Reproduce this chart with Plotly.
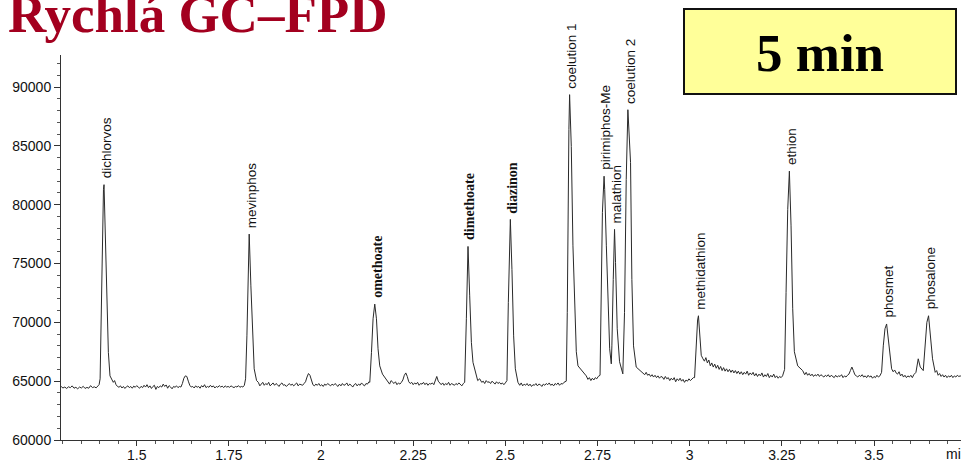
import plotly.graph_objects as go

# ---------------- data ----------------
time_min = [
    1.295, 1.300, 1.305, 1.310, 1.315, 1.320, 1.325, 1.330, 1.335, 1.340, 1.345, 1.350,
    1.355, 1.360, 1.365, 1.370, 1.375, 1.380, 1.385, 1.390, 1.395, 1.398,
    1.4008, 1.4054, 1.4099, 1.4114, 1.4141, 1.4187, 1.4232, 1.4276, 1.4320, 1.4366, 1.4400,
    1.444, 1.448, 1.452, 1.456, 1.460, 1.464, 1.468, 1.472, 1.476, 1.480, 1.484, 1.488,
    1.492, 1.496, 1.500, 1.504, 1.508, 1.512, 1.516, 1.520, 1.524, 1.528, 1.532, 1.536,
    1.540, 1.544, 1.548, 1.552, 1.556, 1.560, 1.564, 1.568, 1.572, 1.576, 1.580, 1.584,
    1.588, 1.592, 1.596, 1.600, 1.604, 1.608, 1.612, 1.616, 1.620, 1.624, 1.628, 1.632,
    1.636, 1.640, 1.644, 1.648, 1.652, 1.656, 1.660, 1.664, 1.668, 1.672, 1.676, 1.680,
    1.684, 1.688, 1.692, 1.696, 1.700, 1.704, 1.708, 1.712, 1.716, 1.720, 1.724, 1.728,
    1.732, 1.736, 1.740, 1.744, 1.748, 1.752, 1.756, 1.760, 1.764, 1.768, 1.772, 1.776,
    1.780, 1.784, 1.788, 1.792,
    1.7954, 1.799, 1.8024, 1.8052, 1.8098, 1.8143, 1.8187, 1.8252, 1.830, 1.834,
    1.838, 1.842, 1.846, 1.850, 1.854, 1.858, 1.862, 1.866, 1.870, 1.874, 1.878, 1.882,
    1.886, 1.890, 1.894, 1.898, 1.902, 1.906, 1.910, 1.914, 1.918, 1.922, 1.926, 1.930,
    1.934, 1.938, 1.942, 1.946, 1.950, 1.954, 1.958, 1.962, 1.966, 1.970, 1.974, 1.978,
    1.982, 1.986, 1.990, 1.994, 1.998, 2.002, 2.006, 2.010, 2.014, 2.018, 2.022, 2.026,
    2.030, 2.034, 2.038, 2.042, 2.046, 2.050, 2.054, 2.058, 2.062, 2.066, 2.070, 2.074,
    2.078, 2.082, 2.086, 2.090, 2.094, 2.098, 2.102, 2.106, 2.110, 2.114, 2.118, 2.122,
    2.126, 2.130,
    2.1323, 2.1369, 2.1412, 2.1458, 2.1504, 2.1547, 2.1593, 2.1667, 2.1720, 2.1775,
    2.182, 2.186, 2.190, 2.194, 2.198, 2.202, 2.206, 2.210, 2.214, 2.218, 2.222, 2.226,
    2.230, 2.234, 2.238, 2.242, 2.246, 2.250, 2.254, 2.258, 2.262, 2.266, 2.270, 2.274,
    2.278, 2.282, 2.286, 2.290, 2.294, 2.298, 2.302, 2.306, 2.310, 2.314, 2.318, 2.322,
    2.326, 2.330, 2.334, 2.338, 2.342, 2.346, 2.350, 2.354, 2.358, 2.362, 2.366, 2.370,
    2.374, 2.378, 2.382, 2.386,
    2.3897, 2.3943, 2.3987, 2.4033, 2.4079, 2.4122, 2.4195, 2.4250, 2.4304,
    2.436, 2.440, 2.444, 2.448, 2.452, 2.456, 2.460, 2.464, 2.468, 2.472, 2.476, 2.480,
    2.484, 2.488, 2.492, 2.496, 2.500,
    2.5043, 2.5081, 2.5136, 2.5179, 2.5225, 2.5271, 2.5342,
    2.539, 2.543, 2.547, 2.551, 2.555, 2.559, 2.563, 2.567, 2.571, 2.575, 2.579, 2.583,
    2.587, 2.591, 2.595, 2.599, 2.603, 2.607, 2.611, 2.615, 2.619, 2.623, 2.627, 2.631,
    2.635, 2.639, 2.643, 2.647, 2.651, 2.655, 2.659, 2.662,
    2.6653, 2.668, 2.6697, 2.6724, 2.6743, 2.6789, 2.6834, 2.6879, 2.6925, 2.697, 2.7105, 2.7195,
    2.724, 2.728, 2.732, 2.736, 2.740, 2.744, 2.748, 2.752,
    2.7569, 2.7596, 2.7633, 2.7678, 2.7695, 2.774, 2.7785, 2.783, 2.7874, 2.789, 2.7927, 2.7962,
    2.7989, 2.8035, 2.8098, 2.8187, 2.8233, 2.8279, 2.8324, 2.8396, 2.8432, 2.8477, 2.855, 2.8685,
    2.874, 2.878, 2.882, 2.886, 2.890, 2.894, 2.898, 2.902, 2.906, 2.910, 2.914, 2.918,
    2.922, 2.926, 2.930, 2.934, 2.938, 2.942, 2.946, 2.950, 2.954, 2.958, 2.962, 2.966,
    2.970, 2.974, 2.978, 2.982, 2.986, 2.990, 2.994, 2.998, 3.002, 3.006, 3.010,
    3.0133, 3.0176, 3.0215, 3.0238, 3.0268, 3.0314, 3.036, 3.040, 3.044, 3.048, 3.052, 3.056,
    3.060, 3.064, 3.068, 3.072, 3.076, 3.080, 3.084, 3.088, 3.092, 3.096, 3.100, 3.104,
    3.108, 3.112, 3.116, 3.120, 3.124, 3.128, 3.132, 3.136, 3.140, 3.144, 3.148, 3.152,
    3.156, 3.160, 3.164, 3.168, 3.172, 3.176, 3.180, 3.184, 3.188, 3.192, 3.196, 3.200,
    3.204, 3.208, 3.212, 3.216, 3.220, 3.224, 3.228, 3.232, 3.236, 3.240, 3.244, 3.248, 3.252,
    3.2575, 3.2615, 3.266, 3.2705, 3.275, 3.2795, 3.284, 3.293, 3.3065,
    3.312, 3.316, 3.320, 3.324, 3.328, 3.332, 3.336, 3.340, 3.344, 3.348, 3.352, 3.356,
    3.360, 3.364, 3.368, 3.372, 3.376, 3.380, 3.384, 3.388, 3.392, 3.396, 3.400, 3.404,
    3.408, 3.412, 3.416, 3.420, 3.424, 3.428, 3.432, 3.436, 3.440, 3.444, 3.448, 3.452,
    3.456, 3.460, 3.464, 3.468, 3.472, 3.476, 3.480, 3.484, 3.488, 3.492, 3.496, 3.500,
    3.504, 3.508, 3.512, 3.516,
    3.5206, 3.5252, 3.5298, 3.5342, 3.5387, 3.5433, 3.5478, 3.552, 3.556, 3.560,
    3.564, 3.568, 3.572, 3.576, 3.580, 3.584, 3.588, 3.592, 3.596, 3.600, 3.604, 3.608,
    3.6138, 3.620, 3.6255, 3.6336, 3.639, 3.6434, 3.648, 3.6525, 3.6588, 3.666,
    3.670, 3.674, 3.678, 3.682, 3.686, 3.690, 3.694, 3.698, 3.702, 3.706, 3.710, 3.714,
    3.718, 3.722, 3.726, 3.730, 3.734, 3.738,
]

signal = [
    64550, 64420, 64500, 64380, 64520, 64450, 64600, 64400, 64480, 64350, 64500, 64420,
    64560, 64380, 64470, 64400, 64620, 64450, 64520, 64430, 64600, 64700,
    65200, 74500, 81300, 81700, 78750, 71700, 67450, 65450, 65100, 64900, 65050,
    64700, 64550, 64480, 64600, 64420, 64550, 64380, 64520, 64600, 64450, 64550, 64400,
    64580, 64480, 64620, 64500, 64400, 64560, 64450, 64650, 64500, 64700, 64450, 64600,
    64380, 64550, 64650, 64300, 64550, 64450, 64600, 64500, 64750, 64550, 64680, 64400,
    64620, 64500, 64350, 64550, 64480, 64600, 64450, 64550, 64500, 64800, 65250, 65450,
    65400, 65000, 64650, 64500, 64550, 64420, 64600, 64480, 64550, 64400, 64620, 64500,
    64700, 64450, 64550, 64480, 64650, 64500, 64600, 64420, 64550, 64480, 64620, 64500,
    64580, 64450, 64600, 64500, 64550, 64480, 64600, 64520, 64450, 64550, 64500, 64620,
    64480, 64550, 64500, 64650,
    65200, 68850, 74500, 77500, 73100, 68850, 66050, 65050, 64900, 64600,
    64750, 64900, 64650, 64800, 64700, 64900, 64600, 64750, 64850, 64650, 64800, 64700,
    64550, 64750, 64850, 64650, 64700, 64550, 64700, 64800, 64650, 64750, 64600, 64700,
    64850, 64600, 64750, 64700, 64650, 64800, 64950, 65350, 65650, 65500, 65000, 64700,
    64600, 64750, 64650, 64800, 64600, 64700, 64550, 64750, 64650, 64800, 64700, 64600,
    64750, 64650, 64800, 64700, 64550, 64750, 64600, 64800, 64650, 64700, 64850, 64600,
    64750, 64650, 64500, 64700, 64800, 64600, 64750, 64650, 64850, 64700, 64600, 64800,
    64750, 64950,
    64900, 67450, 70300, 71550, 70300, 67750, 66300, 65600, 65350, 65200,
    64950, 64750, 65050, 64900, 64800, 64950, 64700, 64850, 64750, 64900, 65100, 65500,
    65700, 65400, 64950, 64800, 64900, 64700, 64850, 64750, 64900, 64650, 64800, 64750,
    64900, 64700, 64850, 64650, 64800, 64750, 64850, 64700, 65100, 65400, 65000, 64800,
    64700, 64850, 64650, 64800, 64700, 64900, 64650, 64800, 64750, 64650, 64800, 64700,
    64850, 64750, 64600, 64800,
    64900, 70300, 76450, 72250, 68300, 66600, 65600, 65050, 65200,
    64900, 65000, 64800, 65050, 64900, 64950, 64800, 65000, 64850, 64750, 64950, 64800,
    64900, 64750, 64850, 64700, 64850,
    65050, 71700, 78750, 74500, 68850, 66050, 64900,
    64650, 64850, 64600, 64750, 64650, 64800, 64600, 64750, 64550, 64700, 64650, 64800,
    64600, 64750, 64700, 64550, 64750, 64650, 64800, 64700, 64850, 64650, 64750, 64600,
    64800, 64700, 64850, 64650, 64800, 64750, 64900, 64950,
    65000, 70850, 79350, 86400, 89350, 84950, 76500, 70850, 67500, 66300, 65800, 65450,
    65150, 65300, 65050, 65250, 65100, 65300, 65200, 65400,
    65500, 73650, 79350, 82420, 81300, 76500, 70850, 67750, 66470, 68000, 73650, 77900,
    75100, 69450, 66650, 65620, 70850, 82150, 88070, 83600, 73650, 68000, 66200, 65800,
    65700, 65550, 65750, 65500, 65600, 65400, 65550, 65350, 65500, 65300, 65450, 65250,
    65400, 65350, 65150, 65400, 65200, 65300, 65050, 65250, 65100, 65300, 64950, 65200,
    65050, 65250, 65000, 65150, 64900, 65100, 65000, 65200, 65050, 65150, 65300,
    65300, 68000, 70200, 70560, 69200, 67200, 66900, 66700, 67000, 66550, 66800, 66300,
    66550, 66200, 66450, 66100, 66350, 66000, 66250, 65900, 66150, 65850, 66050, 65800,
    66000, 65750, 65950, 65700, 65900, 65650, 65850, 65600, 65800, 65550, 65750, 65600,
    65850, 65500, 65700, 65550, 65750, 65450, 65650, 65400, 65600, 65450, 65700, 65350,
    65550, 65400, 65650, 65300, 65500, 65350, 65600, 65300, 65450, 65250, 65400, 65300, 65450,
    66000, 72550, 79600, 82850, 78200, 71150, 67500, 66300, 65900,
    65550, 65750, 65500, 65650, 65450, 65600, 65400, 65550, 65450, 65600, 65400, 65550,
    65450, 65350, 65500, 65400, 65550, 65350, 65500, 65400, 65300, 65500, 65350, 65450,
    65400, 65550, 65300, 65450, 65350, 65500, 65600, 65900, 66200, 65900, 65550, 65450,
    65350, 65500, 65400, 65550, 65350, 65450, 65300, 65500, 65350, 65450, 65250, 65400,
    65300, 65500, 65350, 65450,
    65750, 68000, 69450, 69860, 68600, 66900, 66050, 65800, 65950, 65700,
    65600, 65800, 65450, 65600, 65350, 65500, 65300, 65450, 65350, 65500, 65300, 65550,
    65750, 66900, 66200, 65900, 68000, 70000, 70560, 69150, 66900, 65750,
    65900, 65500, 65650, 65400, 65550, 65350, 65500, 65300, 65450, 65350, 65500, 65300,
    65450, 65350, 65500, 65400, 65450, 65350,
]

peak_names = ["dichlorvos", "mevinphos", "omethoate", "dimethoate", "diazinon",
              "coelution 1", "pirimiphos-Me", "malathion", "coelution 2",
              "methidathion", "ethion", "phosmet", "phosalone"]
peak_times = [1.4114, 1.8052, 2.1458, 2.3987, 2.5136, 2.6743, 2.7678, 2.7962,
              2.8324, 3.0238, 3.2705, 3.5342, 3.648]
peak_heights = [81700, 77500, 71550, 76450, 78750, 89350, 82420, 77900,
                88070, 70560, 82850, 69860, 70560]

x_tick_values = [1.5, 1.75, 2.0, 2.25, 2.5, 2.75, 3.0, 3.25, 3.5]
x_tick_labels = ["1.5", "1.75", "2", "2.25", "2.5", "2.75", "3", "3.25", "3.5"]
y_tick_values = [60000, 65000, 70000, 75000, 80000, 85000, 90000]
y_tick_labels = ["60000", "65000", "70000", "75000", "80000", "85000", "90000"]

title_text = "Rychlá GC–FPD"
badge_text = "5 min"
x_unit_text = "min"

# ---------------- layout helpers ----------------
W, H = 961, 460
ML, MR, MT, MB = 61, 0, 55, 20
PW, PH = W - ML - MR, H - MT - MB


def px(x):
    return (x - ML) / PW


def py(y):
    return (H - MB - y) / PH


SANS = "Liberation Sans, Arial, Helvetica, sans-serif"
SERIF = "Liberation Serif, Times New Roman, serif"
SERIF_BOLD_LABELS = {"omethoate", "dimethoate", "diazinon"}
INK = "#111111"

fig = go.Figure()
fig.add_trace(go.Scatter(
    x=time_min, y=signal, mode="lines",
    line=dict(color="#2a2a2a", width=1),
    hoverinfo="skip", showlegend=False,
))

annotations = []
for name, t, h in zip(peak_names, peak_times, peak_heights):
    if name in SERIF_BOLD_LABELS:
        font = dict(family=SERIF, size=14, color=INK, weight="bold")
    else:
        font = dict(family=SANS, size=13.5, color=INK)
    annotations.append(dict(
        x=t, y=h, xref="x", yref="y", text=name, textangle=-90,
        showarrow=False, xanchor="center", yanchor="bottom",
        xshift=2, yshift=4, font=font,
    ))

annotations.append(dict(
    x=px(6), y=py(14.1), xref="paper", yref="paper", text=f"<b>{title_text}</b>",
    showarrow=False, xanchor="left", yanchor="middle",
    font=dict(family=SERIF, size=53, color="#a3001f"),
))
annotations.append(dict(
    x=px(820), y=py(53), xref="paper", yref="paper", text=f"<b>{badge_text}</b>",
    showarrow=False, xanchor="center", yanchor="middle",
    font=dict(family=SERIF, size=53, color="#000000"),
))
annotations.append(dict(
    x=px(944), y=py(454), xref="paper", yref="paper", text=x_unit_text,
    showarrow=False, xanchor="left", yanchor="middle",
    font=dict(family=SANS, size=14, color=INK),
))

fig.update_layout(
    width=W, height=H,
    margin=dict(l=ML, r=MR, t=MT, b=MB, pad=0),
    paper_bgcolor="white", plot_bgcolor="white",
    showlegend=False,
    xaxis=dict(
        range=[1.2947, 3.736], tickmode="array",
        tickvals=x_tick_values, ticktext=x_tick_labels,
        ticks="outside", ticklen=5, tickwidth=1, tickcolor="#333",
        ticklabelstandoff=-3,
        showline=True, linecolor="#333", linewidth=1,
        showgrid=False, zeroline=False, automargin=False,
        tickfont=dict(family=SANS, size=14, color=INK),
        minor=dict(tickmode="linear", tick0=0, dtick=0.05, ticks="outside",
                   ticklen=2.5, tickcolor="#555", showgrid=False),
    ),
    yaxis=dict(
        range=[60000, 92720], tickmode="array",
        tickvals=y_tick_values, ticktext=y_tick_labels,
        ticks="outside", ticklen=6, tickwidth=1, tickcolor="#333",
        showline=True, linecolor="#333", linewidth=1,
        showgrid=False, zeroline=False, automargin=False,
        tickfont=dict(family=SANS, size=14, color=INK),
        minor=dict(tickmode="linear", tick0=0, dtick=1000, ticks="outside",
                   ticklen=3, tickcolor="#555", showgrid=False),
    ),
    shapes=[dict(
        type="rect", xref="paper", yref="paper",
        x0=px(684), x1=px(956), y0=py(94), y1=py(9),
        fillcolor="#ffff99", line=dict(color="#111", width=2), layer="above",
    )],
    annotations=annotations,
)

fig.write_html("out.html")
